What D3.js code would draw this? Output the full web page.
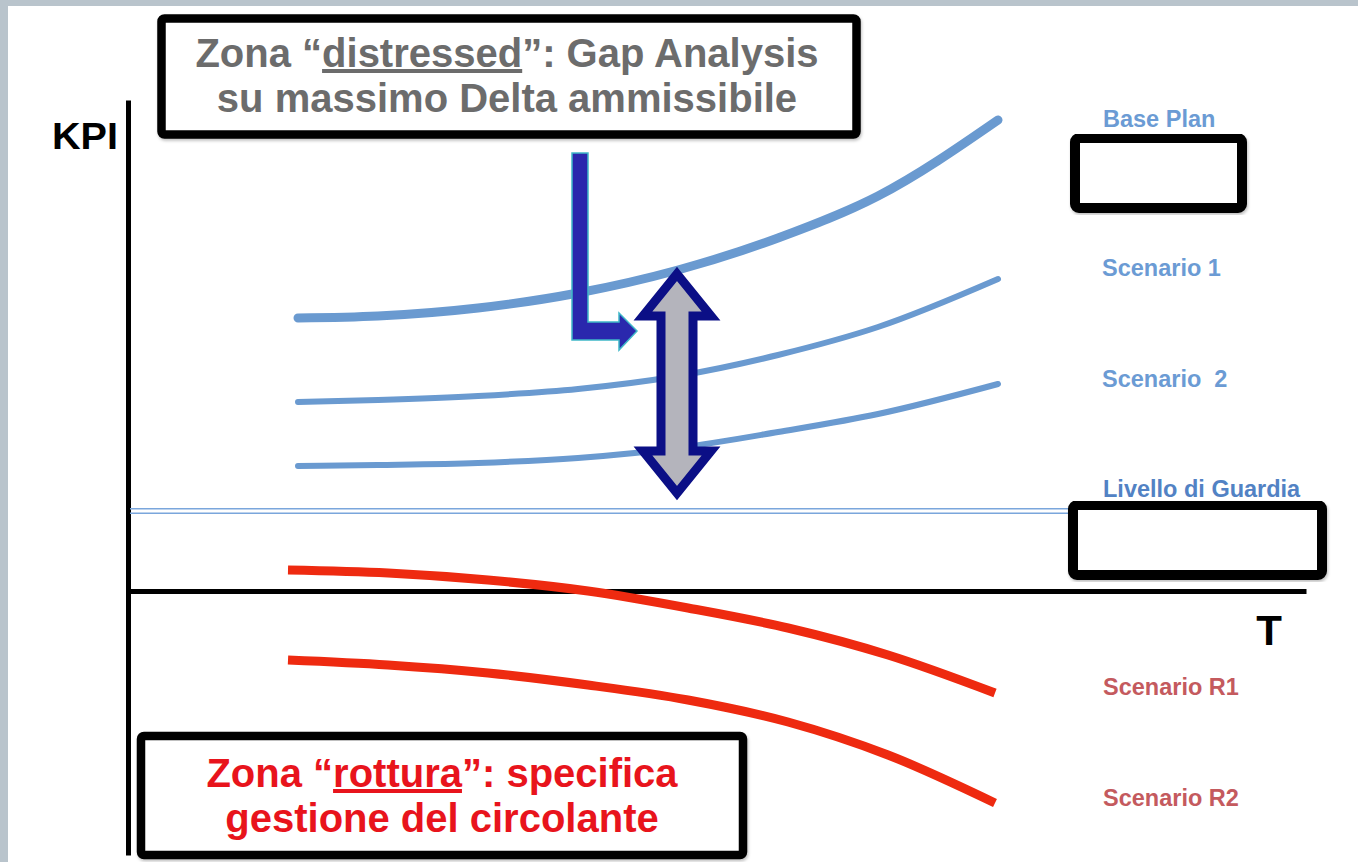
<!DOCTYPE html>
<html>
<head>
<meta charset="utf-8">
<script src="https://cdn.jsdelivr.net/npm/d3@7"></script>
<style>
  html, body { margin: 0; padding: 0; background: #b9c4cc; }
  svg { display: block; }
  text { font-family: "Liberation Sans", Arial, Helvetica, sans-serif; font-weight: bold; }
</style>
</head>
<body>
<svg id="chart" width="1358" height="862"></svg>
<script>
// ---------------- DATA ----------------
const tValues = [17, 25, 35, 45, 55, 65, 75, 87];           // time (T) sample points of blue scenarios
const basePlan = [27.3, 27.5, 28.3, 29.8, 32.1, 35.3, 39.5, 47.1];
const scenario1 = [18.9, 19.1, 19.5, 20.2, 21.5, 23.6, 26.4, 31.2];
const scenario2 = [12.5, 12.6, 12.8, 13.3, 14.3, 15.9, 17.7, 20.7];

const tValuesRed = [16, 26, 36, 46, 56, 66, 76, 86.7];        // time (T) sample points of red scenarios
const scenarioR1 = [2.1, 1.8, 1.1, 0, -1.7, -3.7, -6.4, -10.2];
const scenarioR2 = [-6.9, -7.4, -8.2, -9.4, -10.9, -13.1, -16.4, -21.2];

const guardLevel = 8;                      // "Livello di Guardia" KPI level
const guardRange = [0.2, 96.7];            // T extent of guard line

const gapT = 54.9;                         // T position of the gap (delta) arrow
const gapRange = [32.6, 8.9];              // KPI top / bottom of the gap arrow
const pointerPath = [[45.2, 43.8], [45.2, 26.0], [50.9, 26.0]]; // L-shaped pointer (T, KPI)

const seriesNames = ["Base Plan", "Scenario 1", "Scenario  2", "Livello di Guardia", "Scenario R1", "Scenario R2"];
const axisLabels = ["KPI", "T"];
const distressedText = ["Zona “", "distressed", "”: Gap Analysis", "su massimo Delta ammissibile"];
const rotturaText = ["Zona “", "rottura", "”: specifica", "gestione del circolante"];

// ---------------- LAYOUT ----------------
const W = 1358, H = 862;
const svg = d3.select("#chart");

const defs = svg.append("defs");
const f = defs.append("filter").attr("id", "shadow").attr("x", "-5%").attr("y", "-5%").attr("width", "110%").attr("height", "115%");
f.append("feDropShadow").attr("dx", 1).attr("dy", 2).attr("stdDeviation", 1.5).attr("flood-color", "#000").attr("flood-opacity", 0.25);

// panel
svg.append("rect").attr("x", 8).attr("y", 6).attr("width", W - 8).attr("height", H - 6).attr("fill", "#ffffff");

const x = d3.scaleLinear().domain([0, 117.8]).range([128, 1306]);
const y = d3.scaleLinear().domain([-26.4, 49.1]).range([855, 100]);

// axes (no ticks), using D3 axes with domain lines only
const yAxis = svg.append("g").attr("transform", `translate(${x(0)},0)`)
  .call(d3.axisLeft(y).ticks(0).tickSizeOuter(0));
yAxis.select(".domain").attr("stroke", "#000").attr("stroke-width", 5);

const xAxis = svg.append("g").attr("transform", `translate(0,${y(0)})`)
  .call(d3.axisBottom(x).ticks(0).tickSizeOuter(0));
xAxis.select(".domain").attr("stroke", "#000").attr("stroke-width", 5);

// guard level: thin double light-blue line
[-2.2, 2.2].forEach(off => {
  svg.append("line")
    .attr("x1", x(guardRange[0])).attr("x2", x(guardRange[1]))
    .attr("y1", y(guardLevel) + off).attr("y2", y(guardLevel) + off)
    .attr("stroke", "#7aa6dc").attr("stroke-width", 1.6);
});

const line = d3.line().curve(d3.curveMonotoneX).x(d => x(d[0])).y(d => y(d[1]));

const blueSeries = [
  { vals: basePlan, w: 9 },
  { vals: scenario1, w: 6 },
  { vals: scenario2, w: 6 }
];
blueSeries.forEach(s => {
  svg.append("path")
    .attr("d", line(tValues.map((t, i) => [t, s.vals[i]])))
    .attr("fill", "none").attr("stroke", "#6a9ad0").attr("stroke-width", s.w)
    .attr("stroke-linecap", "round");
});

[scenarioR1, scenarioR2].forEach(vals => {
  svg.append("path")
    .attr("d", line(tValuesRed.map((t, i) => [t, vals[i]])))
    .attr("fill", "none").attr("stroke", "#ee2a10").attr("stroke-width", 9);
});

// gap double arrow
(function () {
  const cx = x(gapT), top = y(gapRange[0]), bot = y(gapRange[1]);
  const sw = 16, hw = 34, hh = 42, inset = 9;
  const t = top + inset, b = bot - inset;
  const p = [
    [cx, t], [cx + hw, t + hh], [cx + sw, t + hh], [cx + sw, b - hh], [cx + hw, b - hh],
    [cx, b], [cx - hw, b - hh], [cx - sw, b - hh], [cx - sw, t + hh], [cx - hw, t + hh]
  ];
  svg.append("path").attr("d", "M" + p.map(d => d.join(",")).join("L") + "Z")
    .attr("fill", "#b4b4bc").attr("stroke", "#0b0f86").attr("stroke-width", 9)
    .attr("stroke-linejoin", "miter");
})();

// L pointer arrow
(function () {
  const px = pointerPath.map(d => [x(d[0]), y(d[1])]);
  const hv = 8, hh = 9;          // half widths of bars
  const tipX = px[2][0], cy = px[1][1];
  const p = [
    [px[0][0] - hv, px[0][1]], [px[0][0] + hv, px[0][1]],
    [px[0][0] + hv, cy - hh], [tipX - 18, cy - hh], [tipX - 18, cy - 18],
    [tipX, cy], [tipX - 18, cy + 19], [tipX - 18, cy + hh],
    [px[0][0] - hv, cy + hh]
  ];
  svg.append("path").attr("d", "M" + p.map(d => d.join(",")).join("L") + "Z")
    .attr("fill", "#2a28ad").attr("stroke", "#3fb8c8").attr("stroke-width", 1.5);
})();

// series labels at the right
const labelPos = [
  { t: 97.5, v: 46.4, c: "#6b9bd4" },
  { t: 97.4, v: 31.5, c: "#6b9bd4" },
  { t: 97.4, v: 20.4, c: "#6b9bd4" },
  { t: 97.5, v: 9.4, c: "#5282c4" },
  { t: 97.5, v: -10.4, c: "#c45a5e" },
  { t: 97.5, v: -21.5, c: "#c45a5e" }
];
seriesNames.forEach((name, i) => {
  svg.append("text").attr("x", x(labelPos[i].t)).attr("y", y(labelPos[i].v))
    .attr("font-size", 23.5).attr("fill", labelPos[i].c).attr("xml:space", "preserve")
    .style("white-space", "pre").text(name);
});

// empty black boxes at right
[[1075, 138, 167, 70], [1073, 505, 249, 70]].forEach(r => {
  svg.append("rect").attr("x", r[0]).attr("y", r[1]).attr("width", r[2]).attr("height", r[3])
    .attr("rx", 4).attr("fill", "#fff").attr("stroke", "#000").attr("stroke-width", 10)
    .attr("filter", "url(#shadow)");
});

// axis labels
svg.append("text").attr("x", 52).attr("y", 149).attr("font-size", 36)
  .attr("textLength", 66).attr("lengthAdjust", "spacingAndGlyphs").attr("fill", "#000").text(axisLabels[0]);
svg.append("text").attr("x", 1269).attr("y", 645).attr("font-size", 42)
  .attr("text-anchor", "middle").attr("fill", "#000").text(axisLabels[1]);

// annotation boxes
function annBox(bx, by, bw, bh, lines, color, cx, base1, base2, fs) {
  svg.append("rect").attr("x", bx).attr("y", by).attr("width", bw).attr("height", bh)
    .attr("rx", 3).attr("fill", "#fff").attr("stroke", "#000").attr("stroke-width", 8.5)
    .attr("filter", "url(#shadow)");
  const t1 = svg.append("text").attr("x", cx).attr("y", base1).attr("font-size", fs)
    .attr("text-anchor", "middle").attr("fill", color);
  t1.append("tspan").text(lines[0]);
  t1.append("tspan").style("text-decoration", "underline").text(lines[1]);
  t1.append("tspan").text(lines[2]);
  svg.append("text").attr("x", cx).attr("y", base2).attr("font-size", fs)
    .attr("text-anchor", "middle").attr("fill", color).text(lines[3]);
}
annBox(161.5, 18.5, 695, 116, distressedText, "#6c6c6c", 507, 67, 112, 40);
annBox(141, 736, 602, 119, rotturaText, "#e8141c", 442, 787, 832, 40);
</script>
</body>
</html>
